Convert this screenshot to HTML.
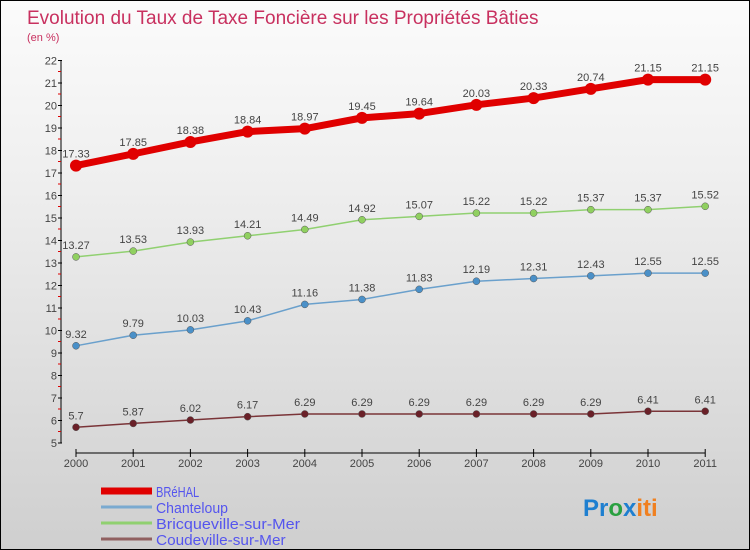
<!DOCTYPE html>
<html><head><meta charset="utf-8"><style>
body{margin:0;}
#c{width:748px;height:548px;border:1px solid #000;background:linear-gradient(#fbfbfb,#f0f0f0 30%,#cfcfcf);position:relative;overflow:hidden;font-family:"Liberation Sans",sans-serif;}
svg text{font-family:"Liberation Sans",sans-serif;}
</style></head><body>
<div id="c">
<svg id="s" width="748" height="548">
<text x="26" y="23" font-size="19" fill="#c8305f">Evolution du Taux de Taxe Foncière sur les Propriétés Bâties</text>
<text x="26" y="40" font-size="11" fill="#c8305f">(en %)</text>
<g id="ax"></g><g id="ser"></g><g id="leg"></g>
<text x="582" y="515" font-size="24" font-weight="bold"><tspan fill="#1e7fd0">Pr</tspan><tspan fill="#2aa040">o</tspan><tspan fill="#1e7fd0">x</tspan><tspan fill="#f08020">iti</tspan></text>
</svg></div>
<script>
const years=[2000,2001,2002,2003,2004,2005,2006,2007,2008,2009,2010,2011];
const yTicks=[5,6,7,8,9,10,11,12,13,14,15,16,17,18,19,20,21,22];
const seriesNames=["BRéHAL","Chanteloup","Bricqueville-sur-Mer","Coudeville-sur-Mer"];
const brehal=[17.33,17.85,18.38,18.84,18.97,19.45,19.64,20.03,20.33,20.74,21.15,21.15];
const chanteloup=[9.32,9.79,10.03,10.43,11.16,11.38,11.83,12.19,12.31,12.43,12.55,12.55];
const bricqueville=[13.27,13.53,13.93,14.21,14.49,14.92,15.07,15.22,15.22,15.37,15.37,15.52];
const coudeville=[5.7,5.87,6.02,6.17,6.29,6.29,6.29,6.29,6.29,6.29,6.41,6.41];
const NS="http://www.w3.org/2000/svg";
const X=i=>75+i*57.2, Y=v=>442-(v-5)*22.5;
function mk(t,a,p){const e=document.createElementNS(NS,t);for(const k in a)e.setAttribute(k,a[k]);p.appendChild(e);return e;}
const ax=document.getElementById('ax');
let e=mk('line',{x1:60,y1:Y(22),x2:60,y2:Y(5),stroke:'#000'},ax);


e=mk('line',{x1:X(0),y1:452,x2:X(11),y2:452,stroke:'#000'},ax);


yTicks.forEach(v=>{
 mk('line',{x1:57,x2:61,y1:Y(v),y2:Y(v),stroke:'#000'},ax);
 mk('line',{x1:57,x2:60,y1:Y(v)+11,y2:Y(v)+11,stroke:'#d00'},ax).style.display=v>5?'':'none';
 const t=mk('text',{x:56,y:Y(v)+4,'font-size':11,fill:'#444','text-anchor':'end'},ax);t.textContent=v;
 
 
});
years.forEach((y,i)=>{
 mk('line',{x1:X(i),x2:X(i),y1:448,y2:456,stroke:'#000'},ax);
 const t=mk('text',{x:X(i),y:466,'font-size':11,fill:'#444','text-anchor':'middle'},ax);t.textContent=y;
 
 
});
const ser=document.getElementById('ser');
const defs=[[brehal,'#e00000','#e00000',7,6,'brehal'],[bricqueville,'#90d070','#90d060',1.5,3.5,'bricqueville'],[chanteloup,'#6aa0cc','#4a90c8',1.5,3.5,'chanteloup'],[coudeville,'#7a3438','#6a2028',1.5,3.5,'coudeville']];
defs.forEach(([d,c,pc,w,r,n])=>{
 const g=mk('g',{},ser);
 
 
 const pl=mk('polyline',{points:d.map((v,i)=>X(i)+','+Y(v)).join(' '),fill:'none',stroke:c,'stroke-width':w,'stroke-linejoin':'round'},g);
 
 
 d.forEach((v,i)=>{
  const p=mk('circle',{cx:X(i),cy:Y(v),r:r,fill:pc,stroke:n=='brehal'?'none':'#555','stroke-width':0.5},g);
  
  
  const t=mk('text',{x:X(i),y:Y(v)-8,'font-size':11,fill:'#444','text-anchor':'middle'},g);t.textContent=v;
  
  
 });
});
const leg=document.getElementById('leg');
const lc=['#e00000','#7aaad0','#90d070','#906060'],lw=[7,3,3,3];
seriesNames.forEach((n,i)=>{
 const y=494+i*16;
 const g=mk('g',{},leg);
 
 
 mk('line',{x1:100,x2:151,y1:y-4,y2:y-4,stroke:lc[i],'stroke-width':lw[i]},g);
 const t=mk('text',{x:155,y:y+2,'font-size':15,fill:'#5555ee',textLength:n.length*7.2,lengthAdjust:'spacingAndGlyphs'},g);t.textContent=n;
});
</script>
</body></html>
